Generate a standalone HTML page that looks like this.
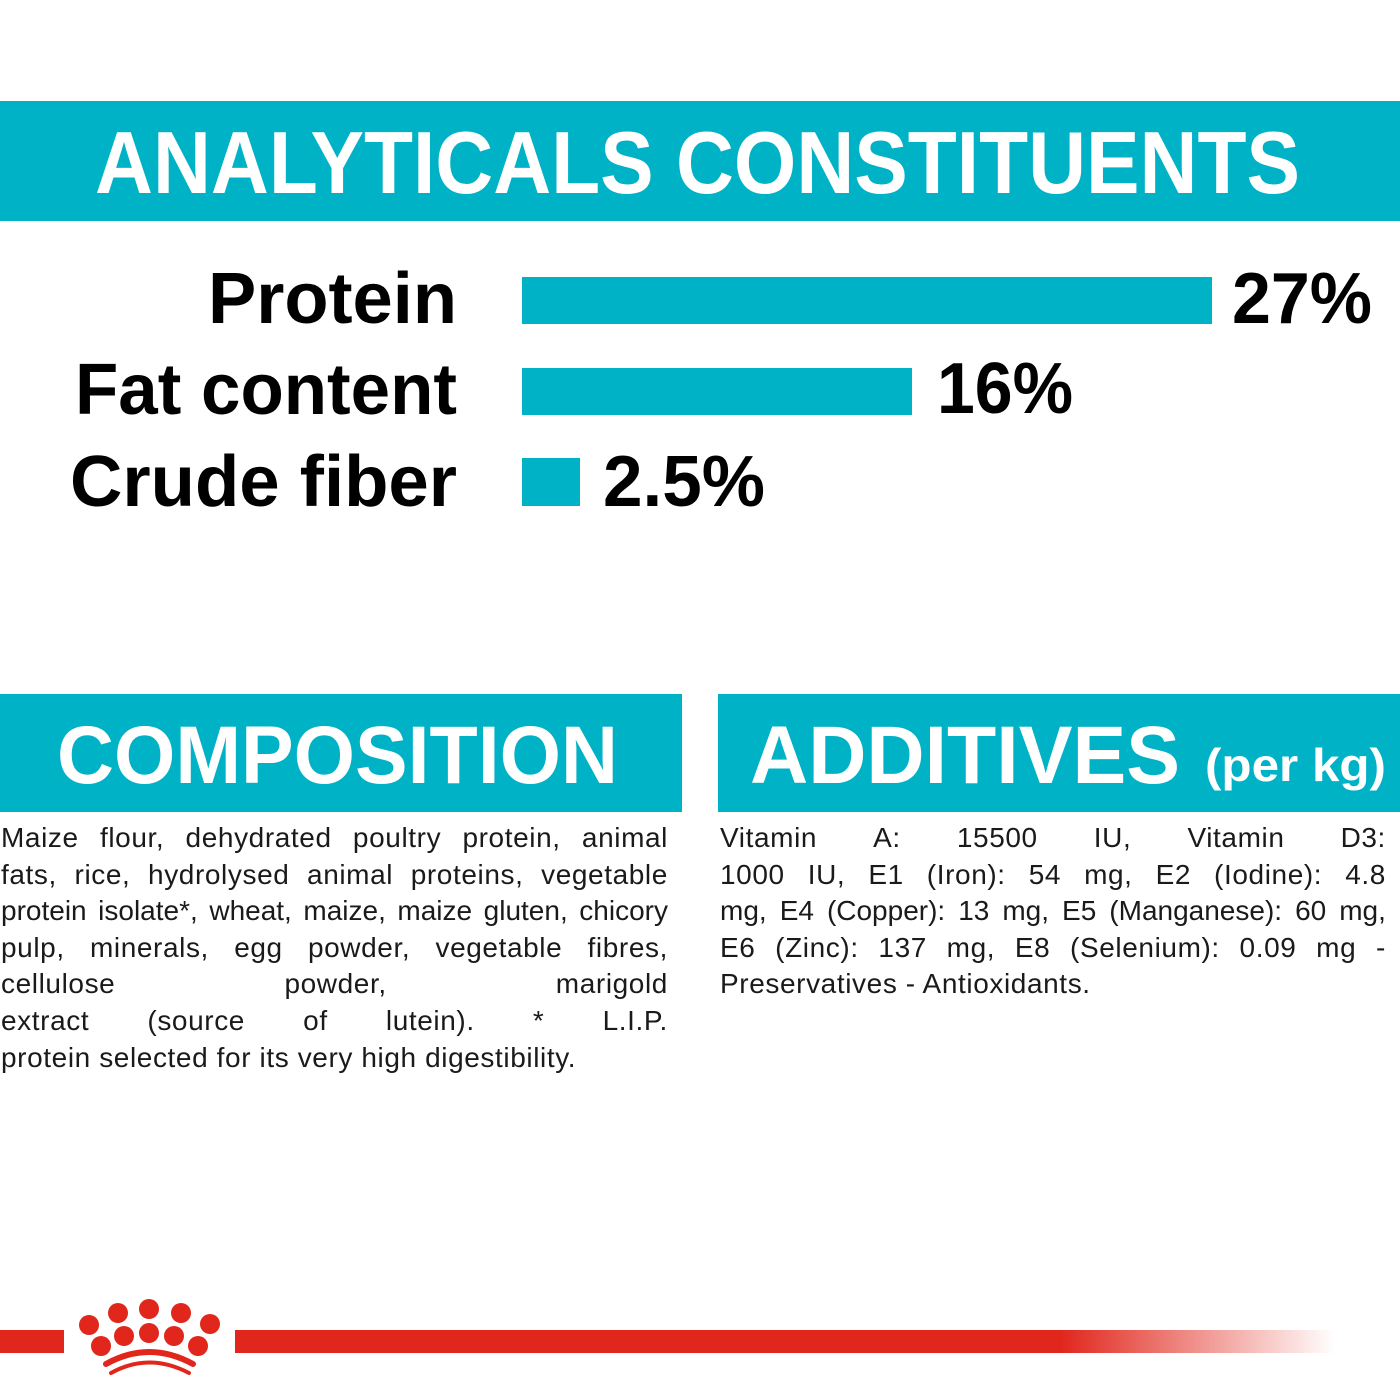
<!DOCTYPE html>
<html><head><meta charset="utf-8"><style>
html,body{margin:0;padding:0;background:#fff;}
.wrap{position:relative;width:1400px;height:1400px;overflow:hidden;}
svg{position:absolute;left:0;top:0;}
.row{position:absolute;display:flex;justify-content:space-between;font-family:"Liberation Sans",sans-serif;font-size:28px;letter-spacing:0.6px;color:#1a1a1a;height:36px;line-height:36px;white-space:nowrap;}
.last{justify-content:flex-start;}
.tight{letter-spacing:0px;}
</style></head><body><div class="wrap">
<svg width="1400" height="1400" viewBox="0 0 1400 1400" font-family="Liberation Sans, sans-serif" font-weight="bold">
<defs><linearGradient id="fade" x1="0" x2="1"><stop offset="0" stop-color="#e1261c"/><stop offset="0.75" stop-color="#e1261c"/><stop offset="1" stop-color="#e1261c" stop-opacity="0"/></linearGradient></defs>
<rect x="0" y="101" width="1400" height="120" fill="#00b2c6"/>
<text x="95" y="193" font-size="88" fill="#fff" textLength="1205" lengthAdjust="spacingAndGlyphs">ANALYTICALS CONSTITUENTS</text>
<g fill="#000" font-size="72">
<text x="208" y="323" textLength="249" lengthAdjust="spacingAndGlyphs">Protein</text>
<text x="75" y="414" textLength="382" lengthAdjust="spacingAndGlyphs">Fat content</text>
<text x="70" y="506" textLength="387" lengthAdjust="spacingAndGlyphs">Crude fiber</text>
<text x="1232" y="323" textLength="140" lengthAdjust="spacingAndGlyphs">27%</text>
<text x="937" y="413" textLength="136" lengthAdjust="spacingAndGlyphs">16%</text>
<text x="603" y="506" textLength="162" lengthAdjust="spacingAndGlyphs">2.5%</text>
</g>
<rect x="522" y="277" width="690" height="47" fill="#00b2c6"/>
<rect x="522" y="368" width="390" height="47" fill="#00b2c6"/>
<rect x="522" y="458" width="58" height="48" fill="#00b2c6"/>
<rect x="0" y="694" width="682" height="118" fill="#00b2c6"/>
<rect x="718" y="694" width="682" height="118" fill="#00b2c6"/>
<text x="57" y="783" font-size="82" fill="#fff" textLength="561" lengthAdjust="spacingAndGlyphs">COMPOSITION</text>
<text x="750" y="783" font-size="82" fill="#fff" textLength="430" lengthAdjust="spacingAndGlyphs">ADDITIVES</text>
<text x="1205" y="781" font-size="46" fill="#fff" textLength="181" lengthAdjust="spacingAndGlyphs">(per kg)</text>
<rect x="0" y="1330" width="64" height="23" fill="#e1261c"/>
<rect x="235" y="1330" width="1100" height="23" fill="url(#fade)"/>
<g fill="#e1261c">
<circle cx="89" cy="1325" r="10"/><circle cx="118" cy="1313" r="10"/><circle cx="149" cy="1309" r="10"/><circle cx="181" cy="1313" r="10"/><circle cx="210" cy="1324" r="10"/>
<circle cx="101" cy="1346" r="10"/><circle cx="124" cy="1336" r="10"/><circle cx="149" cy="1333" r="10"/><circle cx="174" cy="1336" r="10"/><circle cx="198" cy="1346" r="10"/>
</g>
<path d="M106 1364 Q149 1340 193 1364" stroke="#e1261c" stroke-width="6" fill="none" stroke-linecap="round"/>
<path d="M111 1373 Q149 1352 189 1373" stroke="#e1261c" stroke-width="4" fill="none" stroke-linecap="round"/>
</svg>

<div class="row" style="left:1px;width:667px;top:820px"><span>Maize</span><span>flour,</span><span>dehydrated</span><span>poultry</span><span>protein,</span><span>animal</span></div>
<div class="row" style="left:1px;width:667px;top:857px"><span>fats,</span><span>rice,</span><span>hydrolysed</span><span>animal</span><span>proteins,</span><span>vegetable</span></div>
<div class="row tight" style="left:1px;width:667px;top:893px"><span>protein</span><span>isolate*,</span><span>wheat,</span><span>maize,</span><span>maize</span><span>gluten,</span><span>chicory</span></div>
<div class="row" style="left:1px;width:667px;top:930px"><span>pulp,</span><span>minerals,</span><span>egg</span><span>powder,</span><span>vegetable</span><span>fibres,</span></div>
<div class="row" style="left:1px;width:667px;top:966px"><span>cellulose</span><span>powder,</span><span>marigold</span></div>
<div class="row" style="left:1px;width:667px;top:1003px"><span>extract</span><span>(source</span><span>of</span><span>lutein).</span><span>*</span><span>L.I.P.</span></div>
<div class="row last" style="left:1px;width:667px;top:1040px">protein selected for its very high digestibility.</div>

<div class="row" style="left:720px;width:666px;top:820px"><span>Vitamin</span><span>A:</span><span>15500</span><span>IU,</span><span>Vitamin</span><span>D3:</span></div>
<div class="row" style="left:720px;width:666px;top:857px"><span>1000</span><span>IU,</span><span>E1</span><span>(Iron):</span><span>54</span><span>mg,</span><span>E2</span><span>(Iodine):</span><span>4.8</span></div>
<div class="row tight" style="left:720px;width:666px;top:893px"><span>mg,</span><span>E4</span><span>(Copper):</span><span>13</span><span>mg,</span><span>E5</span><span>(Manganese):</span><span>60</span><span>mg,</span></div>
<div class="row" style="left:720px;width:666px;top:930px"><span>E6</span><span>(Zinc):</span><span>137</span><span>mg,</span><span>E8</span><span>(Selenium):</span><span>0.09</span><span>mg</span><span>-</span></div>
<div class="row last" style="left:720px;width:666px;top:966px">Preservatives - Antioxidants.</div>
</div></body></html>
